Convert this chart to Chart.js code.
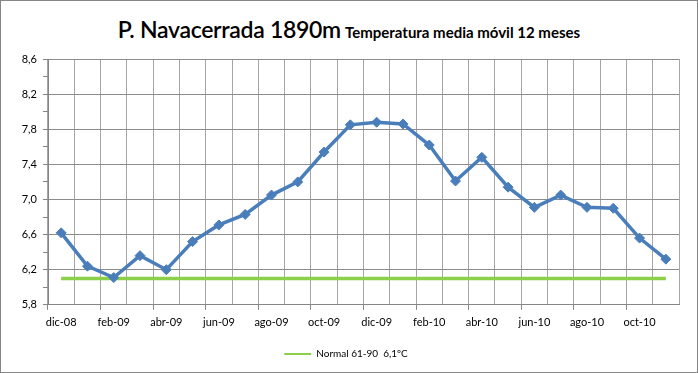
<!DOCTYPE html>
<html>
<head>
<meta charset="utf-8">
<script src="https://cdn.jsdelivr.net/npm/chart.js@4/dist/chart.umd.min.js"></script>
<style>
  html, body { margin: 0; padding: 0; background: #fff; }
  #wrap {
    position: relative; width: 698px; height: 373px;
    box-sizing: border-box; border: 1px solid #868686; background: #fff;
  }
  #title {
    position: absolute; left: 0; right: 0; top: 14px; text-align: center;
    font-family: Lato, 'Open Sans', sans-serif; color: #000; white-space: nowrap;
  }
  #title .big { font-size: 23px; font-weight: 600; letter-spacing: -0.3px; }
  #title .small { font-size: 15px; font-weight: 700; }
  canvas { position: absolute; left: 0; top: 0; }
</style>
</head>
<body>
<div id="wrap">
  <div id="title"><span class="big">P. Navacerrada 1890m</span> <span class="small">Temperatura media móvil 12 meses</span></div>
  <canvas id="chart" width="696" height="371"></canvas>
</div>
<script>
// ── Data ────────────────────────────────────────────────
const months = ['dic-08', 'ene-09', 'feb-09', 'mar-09', 'abr-09', 'may-09', 'jun-09', 'jul-09',
    'ago-09', 'sep-09', 'oct-09', 'nov-09', 'dic-09', 'ene-10', 'feb-10', 'mar-10',
    'abr-10', 'may-10', 'jun-10', 'jul-10', 'ago-10', 'sep-10', 'oct-10', 'nov-10'];
const movingAvg = [6.62, 6.24, 6.11, 6.36, 6.20, 6.52, 6.71, 6.83, 7.05, 7.20, 7.54, 7.85,
    7.88, 7.86, 7.62, 7.21, 7.48, 7.14, 6.91, 7.05, 6.91, 6.90, 6.56, 6.32];
const normalValue = 6.1;
const normal = months.map(() => normalValue);
const normalLabel = 'Normal 61-90  6,1ºC';

const axisFont = { family: 'Lato, "Open Sans", sans-serif', size: 11 };

// ── Chart ───────────────────────────────────────────────
new Chart(document.getElementById('chart'), {
    type: 'line',
    data: {
        labels: months,
        datasets: [{
            label: 'media',
            data: movingAvg,
            borderColor: '#4a7ebb',
            backgroundColor: '#4a7ebb',
            borderWidth: 3.5,
            pointStyle: 'rectRot',
            pointRadius: 5,
            pointBorderWidth: 1,
            tension: 0
        }, {
            label: normalLabel,
            data: normal,
            borderColor: '#8cd04a',
            backgroundColor: '#8cd04a',
            borderWidth: 3.5,
            pointRadius: 0,
            tension: 0
        }]
    },
    options: {
        responsive: false,
        animation: false,
        layout: { padding: { left: 12, right: 18, top: 58, bottom: 3 } },
        plugins: {
            tooltip: { enabled: false },
            legend: {
                position: 'bottom',
                labels: {
                    color: '#000',
                    font: { family: 'Lato, "Open Sans", sans-serif', size: 10 },
                    boxWidth: 27,
                    boxHeight: 2,
                    padding: 14,
                    filter: item => item.datasetIndex === 1,
                    generateLabels: chart => chart.data.datasets.map((ds, i) => ({
                        text: ds.label,
                        fillStyle: ds.borderColor,
                        strokeStyle: ds.borderColor,
                        lineWidth: 0,
                        datasetIndex: i
                    }))
                }
            }
        },
        scales: {
            x: {
                offset: true,
                grid: {
                    offset: true,
                    color: '#a6a6a6',
                    tickLength: 5,
                    tickColor: ctx => ctx.index % 2 === 0 ? '#868686' : 'rgba(0,0,0,0)'
                },
                border: { color: '#868686' },
                ticks: {
                    autoSkip: false,
                    maxRotation: 0,
                    color: '#000',
                    font: axisFont,
                    padding: 6,
                    callback: (v, i) => i % 2 === 0 ? months[i] : ''
                }
            },
            y: {
                min: 5.8,
                max: 8.6,
                afterFit: scale => { scale.width = 35; },
                grid: {
                    color: ctx => ctx.index % 2 === 0 ? '#8c8c8c' : 'rgba(0,0,0,0)',
                    tickLength: 5,
                    tickColor: '#868686'
                },
                border: { color: '#868686' },
                ticks: {
                    stepSize: 0.2,
                    color: '#000',
                    font: axisFont,
                    padding: 6,
                    callback: (v, i) => i % 2 === 0 ? v.toFixed(1).replace('.', ',') : ''
                }
            }
        }
    }
});
</script>
</body>
</html>
